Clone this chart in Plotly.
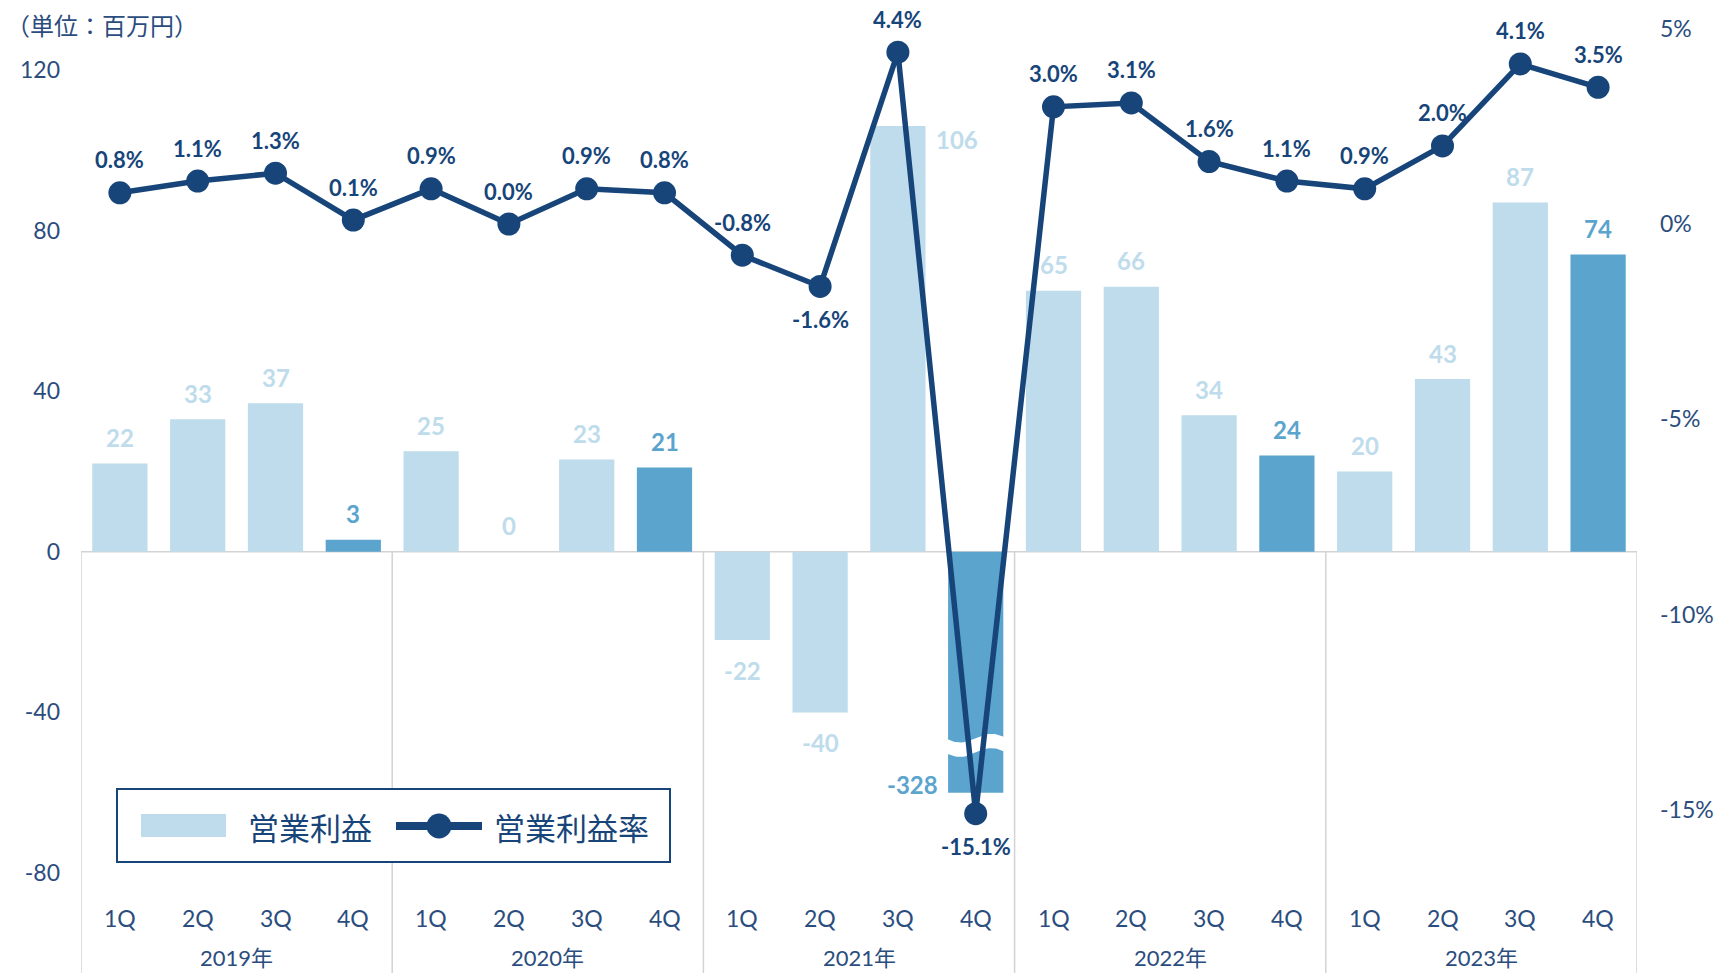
import math
import plotly.graph_objects as go

# ---- data -------------------------------------------------------------
years = ["2019年", "2020年", "2021年", "2022年", "2023年"]
quarters = ["1Q", "2Q", "3Q", "4Q",
            "1Q", "2Q", "3Q", "4Q",
            "1Q", "2Q", "3Q", "4Q",
            "1Q", "2Q", "3Q", "4Q",
            "1Q", "2Q", "3Q", "4Q"]
# operating income (million yen)
op_income = [22, 33, 37, 3,
             25, 0, 23, 21,
             -22, -40, 106, -328,
             65, 66, 34, 24,
             20, 43, 87, 74]
# operating margin (%)
op_margin = [0.8, 1.1, 1.3, 0.1,
             0.9, 0.0, 0.9, 0.8,
             -0.8, -1.6, 4.4, -15.1,
             3.0, 3.1, 1.6, 1.1,
             0.9, 2.0, 4.1, 3.5]

left_ticks = [-80, -40, 0, 40, 80, 120]
right_ticks = [-15, -10, -5, 0, 5]

# ---- styling ----------------------------------------------------------
W, H = 1714, 973
ML, MR = 81, 77
PW = W - ML - MR
LIGHT = "#BEDCEB"
DARK = "#5BA4CE"
NAVY = "#17457A"
TEXT = "#2B4D7E"
GRID = "#D3D3D3"
FONT = "Lato, 'Noto Sans CJK JP', sans-serif"
CJK = "'Noto Sans CJK JP', sans-serif"

BREAK_FLOOR = -60          # bars below this are drawn broken
Y1_RANGE = [-104.9, 137.4]
Y2_RANGE = [-19.18, 5.736]
BAR_W = 0.71

n = len(op_income)
xs = list(range(n))
bar_shown = [max(v, BREAK_FLOOR) for v in op_income]
bar_colors = [DARK if q == "4Q" else LIGHT for q in quarters]


def px_x(p):
    return (p - ML) / PW


def px_y(p):
    return 1 - p / H


fig = go.Figure()

fig.add_trace(go.Bar(
    x=xs, y=bar_shown, width=BAR_W, marker=dict(color=bar_colors, line=dict(width=0)),
    name="営業利益", hoverinfo="skip", showlegend=False, yaxis="y",
))

# wavy white break across the truncated bar
for i, v in enumerate(op_income):
    if v < BREAK_FLOOR:
        steps = 40
        x0, x1 = i - 0.4, i + 0.4
        top = [(x0 + (x1 - x0) * k / steps,
                -46.4 - 1.1 * math.sin(2 * math.pi * k / steps)) for k in range(steps + 1)]
        bot = [(x, y - 3.6) for x, y in reversed(top)]
        pts = top + bot + [top[0]]
        fig.add_trace(go.Scatter(
            x=[p[0] for p in pts], y=[p[1] for p in pts], mode="lines",
            fill="toself", fillcolor="white", line=dict(width=0, color="white"),
            hoverinfo="skip", showlegend=False, yaxis="y",
        ))

fig.add_trace(go.Scatter(
    x=xs, y=op_margin, mode="lines+markers", yaxis="y2",
    line=dict(color=NAVY, width=5.5), marker=dict(color=NAVY, size=23),
    name="営業利益率", hoverinfo="skip", showlegend=False,
))

annotations = []
# bar value labels
for i, v in enumerate(op_income):
    shown = bar_shown[i]
    color = bar_colors[i]
    xshift, yshift = 0, (26 if v >= 0 else -30)
    if i == 10:           # beside the bar top, clear of the margin line
        xshift, yshift = 59, -13
    if v < BREAK_FLOOR:   # left of the broken bar end
        xshift, yshift = -63, 8
    annotations.append(dict(
        x=i, y=shown, xref="x", yref="y", text=f"<b>{v}</b>", showarrow=False,
        xshift=xshift, yshift=yshift, font=dict(family=FONT, size=24, color=color),
        xanchor="center", yanchor="middle",
    ))

# margin labels
for i, v in enumerate(op_margin):
    below = i in (9, 11)
    annotations.append(dict(
        x=i, y=v, xref="x", yref="y2", text=f"<b>{v:.1f}%</b>", showarrow=False,
        yshift=-33 if below else 33, font=dict(family=FONT, size=22, color=NAVY),
        xanchor="center", yanchor="middle",
    ))

# category labels
for i, q in enumerate(quarters):
    annotations.append(dict(
        x=i, y=px_y(918), xref="x", yref="paper", text=q, showarrow=False,
        font=dict(family=FONT, size=23, color=TEXT), xanchor="center", yanchor="middle",
    ))
for j, yr in enumerate(years):
    annotations.append(dict(
        x=4 * j + 1.5, y=px_y(957), xref="x", yref="paper", text=yr, showarrow=False,
        font=dict(family=FONT, size=22, color=TEXT), xanchor="center", yanchor="middle",
    ))

# unit note
annotations.append(dict(
    x=px_x(4), y=px_y(24), xref="paper", yref="paper", text="（単位：百万円）",
    showarrow=False, font=dict(family=CJK, size=24, color=TEXT),
    xanchor="left", yanchor="middle",
))

# legend texts
annotations.append(dict(
    x=px_x(246), y=px_y(826), xref="paper", yref="paper", text="営業利益",
    showarrow=False, font=dict(family=CJK, size=31, color=NAVY),
    xanchor="left", yanchor="middle",
))
annotations.append(dict(
    x=px_x(492), y=px_y(826), xref="paper", yref="paper", text="営業利益率",
    showarrow=False, font=dict(family=CJK, size=31, color=NAVY),
    xanchor="left", yanchor="middle",
))

shapes = []
# zero line and year separators
shapes.append(dict(type="line", xref="x", yref="y", x0=-0.5, x1=n - 0.5, y0=0, y1=0,
                   line=dict(color=GRID, width=1.5), layer="below"))
for b in [-0.5, 3.5, 7.5, 11.5, 15.5, n - 0.5]:
    shapes.append(dict(type="line", xref="x", yref="y", x0=b, x1=b, y0=0, y1=Y1_RANGE[0] - 5,
                       line=dict(color=GRID, width=1.5), layer="below"))

# legend box
shapes.append(dict(type="rect", xref="paper", yref="paper",
                   x0=px_x(117), x1=px_x(670), y0=px_y(862), y1=px_y(789),
                   line=dict(color=NAVY, width=2), fillcolor="white", layer="above"))
shapes.append(dict(type="rect", xref="paper", yref="paper",
                   x0=px_x(141), x1=px_x(226), y0=px_y(837), y1=px_y(814),
                   line=dict(width=0), fillcolor=LIGHT, layer="above"))
shapes.append(dict(type="line", xref="paper", yref="paper",
                   x0=px_x(396), x1=px_x(482), y0=px_y(826), y1=px_y(826),
                   line=dict(color=NAVY, width=8), layer="above"))
shapes.append(dict(type="circle", xref="paper", yref="paper",
                   xsizemode="pixel", ysizemode="pixel",
                   xanchor=px_x(439), yanchor=px_y(826),
                   x0=-12.5, x1=12.5, y0=-12.5, y1=12.5,
                   line=dict(width=0), fillcolor=NAVY, layer="above"))

fig.update_layout(
    width=W, height=H,
    margin=dict(l=ML, r=MR, t=0, b=0, pad=0),
    paper_bgcolor="white", plot_bgcolor="white",
    bargap=0.29,
    showlegend=False,
    xaxis=dict(range=[-0.5, n - 0.5], visible=False, fixedrange=True),
    yaxis=dict(range=Y1_RANGE, tickvals=left_ticks, ticktext=[str(t) for t in left_ticks],
               showgrid=False, zeroline=False, showline=False, ticks="",
               ticklabelstandoff=20,
               tickfont=dict(family=FONT, size=23, color=TEXT)),
    yaxis2=dict(range=Y2_RANGE, overlaying="y", side="right",
                tickvals=right_ticks, ticktext=[f"{t}%" for t in right_ticks],
                showgrid=False, zeroline=False, showline=False, ticks="",
                ticklabelstandoff=22,
                tickfont=dict(family=FONT, size=23, color=TEXT)),
    annotations=annotations,
    shapes=shapes,
)

fig.write_html("out.html")
